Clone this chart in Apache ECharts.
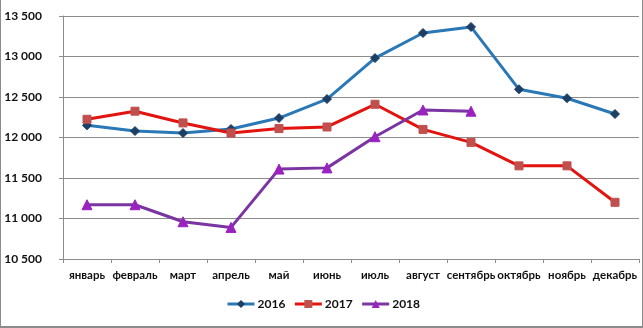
<!DOCTYPE html>
<html>
<head>
<meta charset="utf-8">
<script src="https://cdn.jsdelivr.net/npm/echarts@6/dist/echarts.min.js"></script>
<style>
  html, body { margin: 0; padding: 0; background: #fff; }
  #frame { position: relative; width: 643px; height: 328px; box-sizing: border-box;
           border-left: 1px solid #8c8c8c; border-right: 1px solid #8c8c8c; border-bottom: 2px solid #8c8c8c; }
  #chart { position: absolute; left: -1px; top: 0; width: 643px; height: 328px; }
</style>
</head>
<body>
<div id="frame"><div id="chart"></div></div>
<script>
// Monthly values by year
const months = ['январь', 'февраль', 'март', 'апрель', 'май', 'июнь', 'июль', 'август', 'сентябрь', 'октябрь', 'ноябрь', 'декабрь'];
const years = ['2016', '2017', '2018'];
const values2016 = [12150, 12080, 12055, 12105, 12240, 12475, 12980, 13290, 13365, 12595, 12485, 12290];
const values2017 = [12225, 12325, 12180, 12055, 12110, 12130, 12410, 12100, 11940, 11650, 11650, 11200];
const values2018 = [11170, 11170, 10960, 10890, 11610, 11625, 12010, 12340, 12325, null, null, null];
const yTicks = { min: 10500, max: 13500, step: 500 };

const font = 'Lato, "Open Sans", sans-serif';
const fmt = v => String(v).replace(/\B(?=(\d{3})+(?!\d))/g, ' ');

function lineSeries(name, data, lineColor, markColor, symbol, size) {
  return {
    name, type: 'line', data, symbol, symbolSize: size,
    showAllSymbol: true, connectNulls: false,
    lineStyle: { color: lineColor, width: 3 },
    itemStyle: { color: markColor, borderColor: markColor },
    emphasis: { disabled: true }
  };
}

const chart = echarts.init(document.getElementById('chart'), null, { renderer: 'canvas' });
chart.setOption({
  animation: false,
  color: ['#2a78b6', '#e3140f', '#7a35a2'],
  grid: { left: 63, right: 4, top: 16, bottom: 69, containLabel: false },
  legend: {
    bottom: 13, left: 221,
    itemWidth: 27, itemHeight: 10, itemGap: 8,
    lineStyle: { width: 3 },
    textStyle: { fontFamily: font, fontWeight: 'bold', fontSize: 12, color: '#111', padding: [0, 0, 0, -2] },
    data: years
  },
  xAxis: {
    type: 'category', data: months, boundaryGap: true,
    axisLine: { lineStyle: { color: '#8c8c8c', width: 1 } },
    axisTick: { show: true, length: 4, alignWithLabel: false, lineStyle: { color: '#8c8c8c' } },
    axisLabel: { interval: 0, margin: 10, fontFamily: font, fontWeight: 'bold', fontSize: 11.5, color: '#111' },
    splitLine: { show: false }
  },
  yAxis: {
    type: 'value', min: yTicks.min, max: yTicks.max, interval: yTicks.step,
    axisLine: { show: true, lineStyle: { color: '#8c8c8c', width: 1 } },
    axisTick: { show: true, length: 4, lineStyle: { color: '#8c8c8c' } },
    axisLabel: { margin: 21, fontFamily: font, fontWeight: 'bold', fontSize: 12, color: '#111', formatter: fmt },
    splitLine: { lineStyle: { color: '#8c8c8c', width: 1 } }
  },
  series: [
    lineSeries(years[0], values2016, '#2a78b6', '#1d3f66', 'diamond', 9),
    lineSeries(years[1], values2017, '#e3140f', '#c0504d', 'rect', 8),
    lineSeries(years[2], values2018, '#7a35a2', '#9a22c0', 'triangle', 10)
  ]
});
</script>
</body>
</html>
